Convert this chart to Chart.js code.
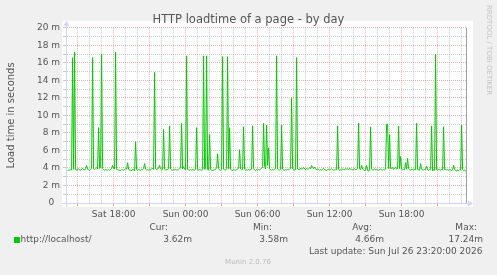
<!DOCTYPE html>
<html><head><meta charset="utf-8">
<script src="https://cdn.jsdelivr.net/npm/chart.js@4/dist/chart.umd.min.js"></script>
<style>html,body{margin:0;padding:0;background:#F0F0F0;overflow:hidden}#wrap{width:497px;height:275px;position:relative}</style>
</head><body><div id="wrap"><canvas id="c" width="497" height="275"></canvas></div>
<script>
const chartTitle = 'HTTP loadtime of a page - by day';
const yAxisTitle = 'Load time in seconds';
const seriesName = 'http://localhost/';
const seriesColor = '#00CC00';
const startMinute = 850;   // first sample: Sat 14:10 (minutes after Sat 00:00)
const stepMinutes = 5;
const loadTimes = [
  3.72,3.75,3.74,3.80,3.78,16.6,3.85,17.24,3.80,3.76,
  3.82,3.90,3.78,3.74,3.86,3.95,3.80,3.77,3.92,4.28,
  3.85,3.78,3.70,3.82,3.96,16.6,3.88,3.80,3.92,4.05,
  3.90,8.6,3.95,4.10,17.0,3.92,3.80,3.74,3.82,3.78,
  3.76,3.80,3.74,3.85,3.92,4.28,3.95,3.88,17.2,3.86,
  3.80,3.76,3.74,3.72,3.80,3.78,3.75,3.82,3.90,3.86,
  4.6,3.88,3.72,3.78,3.66,3.84,3.78,3.70,7.0,3.80,
  3.74,3.82,3.78,3.72,3.86,3.80,3.92,4.5,3.86,3.76,
  3.80,3.74,3.82,3.78,3.88,3.96,3.84,14.9,3.90,3.82,
  3.86,4.02,4.3,3.90,3.78,3.84,8.4,3.86,3.74,3.80,
  3.82,3.92,8.8,3.88,3.78,3.74,3.80,3.78,3.84,3.76,
  3.80,3.86,3.92,4.0,9.1,3.90,4.15,3.86,3.80,16.8,
  3.84,3.78,3.74,3.80,3.76,3.82,3.78,3.74,3.86,8.6,
  3.80,3.76,3.82,3.78,3.74,3.80,16.8,3.86,3.90,16.8,
  3.82,3.76,7.8,3.80,3.74,3.70,3.76,3.80,3.84,4.02,
  5.6,3.92,3.76,3.72,3.84,16.7,3.86,3.80,3.76,3.90,
  16.7,3.92,8.6,3.84,3.76,3.70,3.82,3.78,3.74,3.80,
  3.86,4.0,6.1,3.88,3.78,3.84,8.7,3.86,3.76,3.80,
  3.74,3.82,3.76,3.80,3.86,8.8,3.90,3.78,3.72,3.84,
  3.76,3.82,3.78,3.88,3.96,4.1,9.1,4.2,3.9,8.9,
  4.3,6.3,3.88,3.80,3.74,3.82,3.78,3.86,3.92,16.8,
  3.88,3.80,3.76,3.84,8.9,3.86,3.78,3.74,3.80,3.76,
  3.82,3.78,3.86,3.94,12.0,3.90,3.80,3.76,3.84,16.6,
  3.88,3.82,3.78,4.0,3.86,3.92,4.06,3.88,3.82,3.96,
  3.84,3.92,4.02,3.90,4.3,4.05,3.94,4.1,3.86,3.78,
  3.90,3.84,3.72,3.80,3.76,3.86,3.94,3.82,3.76,3.70,
  3.80,3.88,3.76,3.84,3.92,3.80,3.74,3.78,3.86,3.80,
  8.8,3.84,3.74,3.80,3.76,3.90,3.82,3.78,3.94,3.86,
  3.92,3.80,3.96,3.84,3.88,3.76,3.82,3.92,3.78,3.86,
  3.94,9.1,3.90,3.82,4.3,3.86,3.78,3.70,3.76,4.3,
  3.74,3.62,3.80,8.7,3.86,3.76,3.80,3.92,3.78,3.84,
  3.78,3.74,3.82,3.88,3.80,3.76,3.84,3.78,3.86,9.0,
  9.0,3.92,7.8,3.94,3.90,4.06,3.84,3.96,4.1,3.88,
  3.96,8.8,3.92,5.3,3.86,3.78,3.84,3.80,4.6,3.86,
  5.1,3.90,3.80,3.74,3.86,3.82,3.78,3.84,3.80,9.1,
  3.82,3.78,3.74,4.5,3.86,3.80,3.76,3.84,3.80,4.2,
  3.78,3.72,3.84,3.80,8.8,3.66,3.82,3.74,17.0,3.78,
  3.76,3.82,3.80,3.74,3.86,3.78,8.7,3.80,3.84,3.76,
  3.80,3.74,3.82,3.78,3.68,3.86,4.3,3.80,3.74,3.62,
  3.78,3.70,3.82,3.76,8.9,3.84,3.72,3.78,3.64,3.62
];
const xMin = 847, xMax = 2847;          // visible window, minutes after Sat 00:00
const xLabelMinutes = [1080, 1440, 1800, 2160, 2520];
const xLabelTexts = ['Sat 18:00', 'Sun 00:00', 'Sun 06:00', 'Sun 12:00', 'Sun 18:00'];
const yMin = 0, yMax = 20;
const statHeads = ['Cur:', 'Min:', 'Avg:', 'Max:'];
const statValues = ['3.62m', '3.58m', '4.66m', '17.24m'];
const lastUpdate = 'Last update: Sun Jul 26 23:20:00 2026';
const footer = 'Munin 2.0.76';
const watermark = 'RRDTOOL / TOBI OETIKER';

const FONT = 'DejaVu Sans';
const TXT = '#555555';
const MAJOR = 'rgba(222,79,79,0.45)';
const MINOR = 'rgba(143,143,143,0.45)';
const AXIS = '#CFD6F8';

const points = loadTimes.map((v, i) => ({x: startMinute + i * stepMinutes, y: v}));

const muninPlugin = {
  id: 'munin',
  beforeDraw(chart) {
    const {ctx, chartArea: a} = chart;
    ctx.save();
    ctx.fillStyle = '#F0F0F0';
    ctx.fillRect(0, 0, chart.width, chart.height);
    ctx.fillStyle = '#FFFFFF';
    ctx.fillRect(a.left - 5, a.top - 7, a.right - a.left + 11, a.bottom - a.top + 11);
    ctx.restore();
  },
  afterDatasetsDraw(chart) {
    const {ctx, chartArea: a} = chart;
    ctx.save();
    ctx.lineWidth = 1;
    ctx.strokeStyle = '#A0A0A0';
    ctx.beginPath(); ctx.moveTo(a.right - 0.5, a.top); ctx.lineTo(a.right - 0.5, a.bottom + 1); ctx.stroke();
    ctx.strokeStyle = AXIS; ctx.fillStyle = AXIS;
    ctx.beginPath(); ctx.moveTo(a.left - 0.5, a.bottom + 4); ctx.lineTo(a.left - 0.5, a.top - 3); ctx.stroke();
    ctx.beginPath(); ctx.moveTo(a.left - 3.5, a.top - 2); ctx.lineTo(a.left - 0.5, a.top - 7); ctx.lineTo(a.left + 2.5, a.top - 2); ctx.closePath(); ctx.fill();
    ctx.beginPath(); ctx.moveTo(a.left - 5, a.bottom + 0.5); ctx.lineTo(a.right + 2, a.bottom + 0.5); ctx.stroke();
    ctx.beginPath(); ctx.moveTo(a.right + 1, a.bottom - 2.5); ctx.lineTo(a.right + 6, a.bottom + 0.5); ctx.lineTo(a.right + 1, a.bottom + 3.5); ctx.closePath(); ctx.fill();
    ctx.restore();
  },
  afterDraw(chart) {
    const {ctx} = chart;
    ctx.save();
    ctx.textBaseline = 'middle';
    ctx.font = '9px "' + FONT + '"';
    ctx.fillStyle = seriesColor;
    ctx.fillRect(14, 237, 6, 6);
    ctx.fillStyle = TXT;
    ctx.textAlign = 'left';
    ctx.fillText(seriesName, 20.5, 239.5);
    const headRight = [168, 272, 372, 477];
    const valRight = [192, 288, 384, 483];
    ctx.textAlign = 'right';
    statHeads.forEach((h, k) => ctx.fillText(h, headRight[k], 227.5));
    statValues.forEach((v, k) => ctx.fillText(v, valRight[k], 239.5));
    ctx.fillText(lastUpdate, 482.5, 251.5);
    ctx.textAlign = 'center';
    ctx.font = '7px "' + FONT + '"';
    ctx.fillStyle = '#BBBBBB';
    ctx.fillText(footer, 248, 262.5);
    ctx.translate(489, 5);
    ctx.rotate(Math.PI / 2);
    ctx.textAlign = 'left';
    ctx.font = '7px "' + FONT + '"';
    ctx.fillStyle = '#C4C4C4';
    ctx.fillText(watermark, 0, 0);
    ctx.restore();
  }
};

new Chart(document.getElementById('c'), {
  type: 'line',
  data: {
    datasets: [{
      label: seriesName,
      data: points,
      borderColor: seriesColor,
      backgroundColor: seriesColor,
      borderWidth: 1,
      pointRadius: 0,
      tension: 0,
      fill: false
    }]
  },
  options: {
    responsive: false,
    animation: false,
    devicePixelRatio: 1,
    layout: {padding: {left: 0, right: 0, top: 0, bottom: 0}},
    plugins: {
      legend: {display: false},
      tooltip: {enabled: false},
      title: {
        display: true, text: chartTitle, color: TXT,
        font: {family: FONT, size: 11.5, weight: 'normal'},
        padding: {top: 13, bottom: 1}
      }
    },
    scales: {
      x: {
        type: 'linear', min: xMin, max: xMax,
        afterBuildTicks(scale) {
          const t = [];
          for (let m = 900; m <= 2820; m += 60) t.push({value: m});
          scale.ticks = t;
        },
        afterFit(scale) { scale.height = 72; scale.paddingRight = 30; },
        ticks: {
          autoSkip: false, maxRotation: 0, minRotation: 0, padding: 3,
          color: TXT, font: {family: FONT, size: 9},
          callback(v) { const k = xLabelMinutes.indexOf(v); return k >= 0 ? xLabelTexts[k] : ''; }
        },
        grid: {
          color: c => (c.tick && c.tick.value % 180 === 0) ? MAJOR : MINOR,
          tickColor: c => (c.tick && c.tick.value % 180 === 0) ? 'rgba(222,79,79,0.6)' : 'rgba(0,0,0,0)',
          tickLength: 3, lineWidth: 1
        },
        border: {display: false, dash: [1, 1]}
      },
      y: {
        min: yMin, max: yMax,
        afterFit(scale) { scale.width = 67; },
        ticks: {
          stepSize: 1, autoSkip: false, padding: 3,
          color: TXT, font: {family: FONT, size: 9},
          callback(v) { return v === 0 ? '0  ' : (v % 2 === 0 ? v + ' m' : ''); }
        },
        grid: {
          color: c => (c.tick && c.tick.value === 0) ? 'rgba(0,0,0,0)' : (c.tick && c.tick.value % 2 === 0 ? MAJOR : MINOR),
          tickColor: 'rgba(143,143,143,0.5)',
          tickLength: 4, lineWidth: 1
        },
        border: {display: false, dash: [1, 1]},
        title: {
          display: true, text: yAxisTitle, color: TXT,
          font: {family: FONT, size: 10}, padding: {top: 5, bottom: 0}
        }
      }
    }
  },
  plugins: [muninPlugin]
});
</script>
</body></html>
